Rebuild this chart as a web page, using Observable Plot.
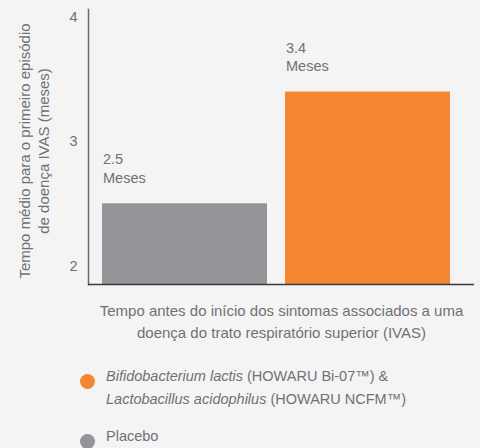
<!DOCTYPE html>
<html>
<head>
<meta charset="utf-8">
<script src="https://cdn.jsdelivr.net/npm/d3@7"></script>
<script src="https://cdn.jsdelivr.net/npm/@observablehq/plot@0.6"></script>
<style>
  html, body { margin: 0; padding: 0; background: #f4f4f4; }
  body { width: 480px; height: 448px; overflow: hidden; font-family: "Liberation Sans", Arial, Helvetica, sans-serif; color: #707174; }
  #legend { padding-top: 20px; }
  .row { display: flex; align-items: flex-start; margin-left: 80px; font-size: 14.5px; line-height: 23px; }
  .row + .row { margin-top: 14px; }
  .dot { width: 15px; height: 15px; border-radius: 50%; margin-top: 9px; margin-right: 11px; flex: none; }
</style>
</head>
<body>
<div id="chart"></div>
<div id="legend"></div>
<script>
const groups = ["Placebo", "Probiótico"];
const values = [2.5, 3.4];
const colors = ["#939598", "#f58733"];
const valueLabels = ["2.5\nMeses", "3.4\nMeses"];
const yTicks = [2, 3, 4];
const yLabel = "Tempo médio para o primeiro episódio\nde doença IVAS (meses)";
const xLabel = "Tempo antes do início dos sintomas associados a uma\ndoença do trato respiratório superior (IVAS)";
const legendItems = [
  {color: "#f58733", html: "<i>Bifidobacterium lactis</i> (HOWARU Bi-07™) &amp;<br><i>Lactobacillus acidophilus</i> (HOWARU NCFM™)"},
  {color: "#939598", html: "Placebo"}
];

const data = groups.map((g, i) => ({group: g, value: values[i], color: colors[i], label: valueLabels[i]}));
const yMin = 1.85, yMax = 4.065;
const textColor = "#707174";

const chart = Plot.plot({
  width: 480,
  height: 345,
  marginLeft: 88,
  marginRight: 6,
  marginTop: 9,
  marginBottom: 61,
  style: {background: "#f4f4f4", fontFamily: "'Liberation Sans', Arial, sans-serif", fontSize: "14px", color: textColor},
  x: {domain: groups, paddingInner: 0.0984, paddingOuter: 0.1038, align: 0.37, axis: null},
  y: {domain: [yMin, yMax], axis: null},
  marks: [
    Plot.barY(data, {x: "group", y1: yMin, y2: "value", fill: "color"}),
    Plot.axisY({ticks: yTicks, tickSize: 0, tickPadding: 11, fontSize: 14.5, fill: textColor, label: null, tickFormat: d => d}),
    Plot.frame({anchor: "left", stroke: "#6a6a6a", strokeWidth: 1.5}),
    Plot.ruleY([yMin], {stroke: "#3a3a3a", strokeWidth: 1.5}),
    Plot.text(data, {x: "group", y: "value", text: "label", textAnchor: "start", lineAnchor: "bottom", dx: -82, dy: -21, lineHeight: 1.27, fontSize: 14.5, fill: textColor}),
    Plot.text([xLabel], {frameAnchor: "bottom", lineAnchor: "top", dy: 16, lineHeight: 1.47, fontSize: 15, fill: textColor}),
    Plot.text([yLabel], {frameAnchor: "left", textAnchor: "middle", rotate: -90, dx: -55, dy: 4, lineHeight: 1.27, fontSize: 15, fill: textColor})
  ]
});
document.getElementById("chart").appendChild(chart);

const legend = document.getElementById("legend");
for (const item of legendItems) {
  const row = document.createElement("div");
  row.className = "row";
  const dot = document.createElement("div");
  dot.className = "dot";
  dot.style.background = item.color;
  const txt = document.createElement("div");
  txt.innerHTML = item.html;
  row.appendChild(dot);
  row.appendChild(txt);
  legend.appendChild(row);
}
</script>
</body>
</html>
